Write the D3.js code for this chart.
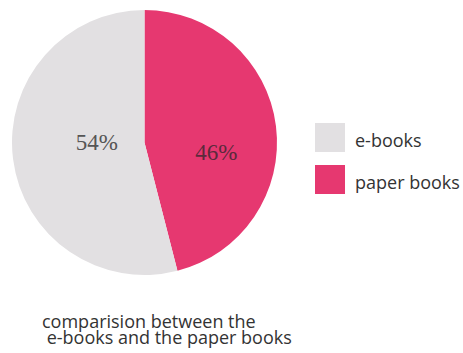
<!DOCTYPE html>
<html>
<head>
<meta charset="utf-8">
<script src="https://cdn.jsdelivr.net/npm/d3@7"></script>
<style>
  body { margin: 0; background: #fff; }
  svg { display: block; }
  .sans { font-family: "Open Sans", "Noto Sans", sans-serif; }
</style>
</head>
<body>
<div id="chart"></div>
<script>
// chart data
const categories = ["paper books", "e-books"];
const shares = [46, 54];
const legendOrder = ["e-books", "paper books"];
const titleLines = ["comparision between the", " e-books and the paper books"];

const width = 463, height = 353;
const cx = 144.5, cy = 142.5, radius = 132.5;

const color = d3.scaleOrdinal()
  .domain(categories)
  .range(["#e63870", "#e2e0e2"]);

const svg = d3.select("#chart")
  .append("svg")
  .attr("width", width)
  .attr("height", height);

const data = categories.map((c, i) => ({ name: c, value: shares[i] }));

const pie = d3.pie()
  .value((d) => d.value)
  .sort(null);

const arc = d3.arc().innerRadius(0).outerRadius(radius);

const g = svg.append("g").attr("transform", `translate(${cx},${cy})`);

const arcs = pie(data);

g.selectAll(".slice")
  .data(arcs)
  .enter()
  .append("path")
  .attr("class", "slice")
  .attr("d", arc)
  .style("fill", (d) => color(d.data.name));

// percent labels: slice centroid plus a nudge to sit like the original
const labelNudge = { "paper books": [6, 26], "e-books": [18, -1] };
g.selectAll(".pct")
  .data(arcs)
  .enter()
  .append("text")
  .attr("class", "pct")
  .attr("x", (d) => arc.centroid(d)[0] + labelNudge[d.data.name][0])
  .attr("y", (d) => arc.centroid(d)[1] + labelNudge[d.data.name][1])
  .attr("text-anchor", "middle")
  .attr("font-family", "Liberation Serif")
  .attr("font-size", 23)
  .style("fill", (d) => d.data.name === "paper books" ? "#5b2a3c" : "#555")
  .text((d) => d.data.value + "%");

// legend
const legend = svg.append("g").attr("transform", "translate(315,123)");
const rows = legend.selectAll(".row")
  .data(legendOrder)
  .enter()
  .append("g")
  .attr("class", "row")
  .attr("transform", (d, i) => `translate(0,${i * 42})`);

rows.append("rect")
  .attr("width", 30)
  .attr("height", 29)
  .style("fill", (d) => color(d));

rows.append("text")
  .attr("class", "sans")
  .attr("x", 40)
  .attr("y", 24)
  .style("font-size", "18px")
  .style("fill", "#333")
  .text((d) => d);

// title
svg.append("g")
  .selectAll("text")
  .data(titleLines)
  .enter()
  .append("text")
  .attr("class", "sans")
  .attr("x", 42)
  .attr("y", (d, i) => 327.5 + i * 16.5)
  .style("white-space", "pre")
  .style("font-size", "18px")
  .style("fill", "#333")
  .text((d) => d);
</script>
</body>
</html>
